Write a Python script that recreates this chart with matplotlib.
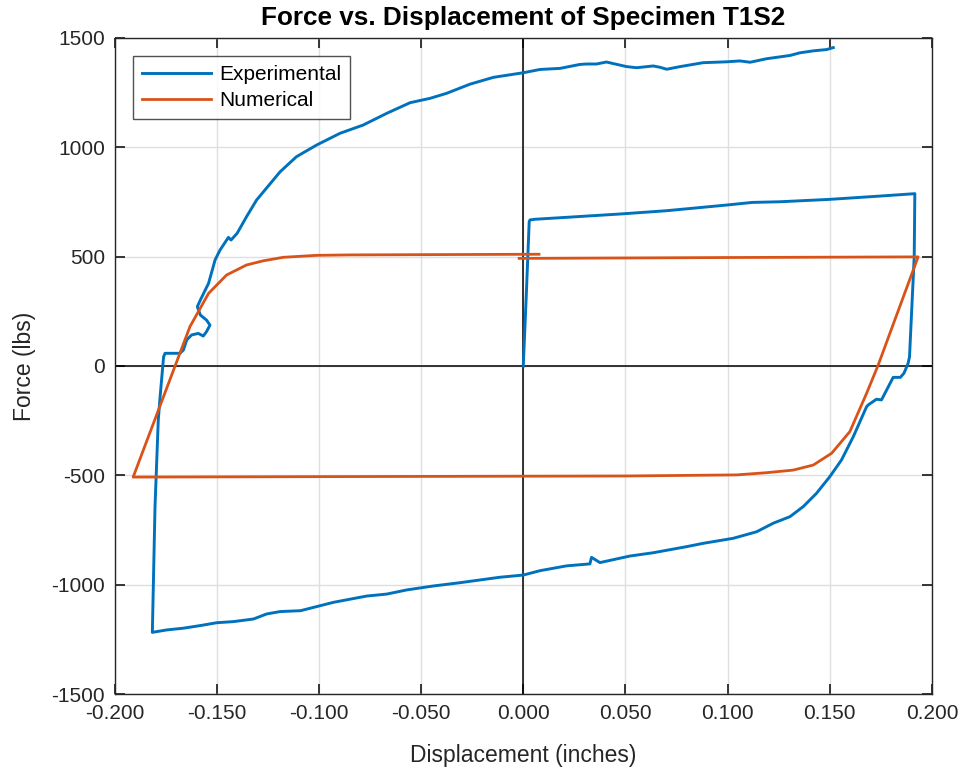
import numpy as np
import matplotlib
matplotlib.use('Agg')
import matplotlib.pyplot as plt
from matplotlib.ticker import FormatStrFormatter

plt.rcParams['font.family'] = ['Liberation Sans', 'DejaVu Sans']
plt.rcParams['axes.unicode_minus'] = False

# experimental hysteresis loop, traced in loading order
exp_disp = [0.000, 0.0015, 0.0029, 0.0033, 0.0057, 0.018, 0.0473, 0.070, 0.0995, 0.112,
            0.1255, 0.150, 0.1745, 0.1916, 0.1913, 0.190, 0.189, 0.1883, 0.1863, 0.1845,
            0.181, 0.1753, 0.1728, 0.1688, 0.168, 0.1615, 0.1557, 0.150, 0.1435, 0.137,
            0.1305, 0.1223, 0.1142, 0.1027, 0.088, 0.080, 0.0636, 0.0522, 0.0375, 0.0334,
            0.0326, 0.0212, 0.0082, 0.000, -0.0114, -0.031, -0.044, -0.057, -0.0668, -0.0766,
            -0.093, -0.101, -0.109, -0.119, -0.1256, -0.132, -0.1419, -0.150, -0.158, -0.1663,
            -0.1745, -0.1815, -0.1802, -0.1786, -0.1777, -0.176, -0.1753, -0.168, -0.1663, -0.1647,
            -0.1623, -0.159, -0.1566, -0.155, -0.1533, -0.155, -0.158, -0.1595, -0.158, -0.154,
            -0.1508, -0.1484, -0.1443, -0.143, -0.140, -0.1354, -0.1305, -0.119, -0.111, -0.1012,
            -0.0897, -0.0783, -0.0669, -0.0554, -0.0456, -0.0375, -0.026, -0.0146, 0.000, 0.0082,
            0.018, 0.0277, 0.031, 0.0358, 0.0407, 0.0506, 0.0554, 0.0636, 0.0669, 0.0702,
            0.0767, 0.088, 0.0995, 0.106, 0.111, 0.119, 0.1305, 0.1353, 0.1418, 0.1484, 0.1517]
exp_force = [0, 330, 660, 668, 671, 678, 695, 710, 736, 748,
             751, 762, 777, 788, 500, 242, 42, 12, -33, -52,
             -52, -155, -152, -178, -186, -323, -430, -506, -582, -643,
             -689, -719, -758, -788, -811, -826, -854, -869, -899, -875,
             -905, -914, -936, -956, -966, -991, -1006, -1024, -1043, -1052,
             -1081, -1100, -1119, -1123, -1134, -1157, -1169, -1174, -1187, -1199,
             -1207, -1218, -643, -247, -140, 42, 58, 58, 73, 119,
             142, 149, 137, 157, 187, 210, 233, 271, 302, 378,
             485, 530, 588, 576, 607, 683, 759, 888, 957, 1010,
             1064, 1102, 1155, 1204, 1224, 1247, 1289, 1320, 1341, 1356,
             1361, 1379, 1381, 1381, 1390, 1369, 1364, 1372, 1366, 1357,
             1369, 1387, 1391, 1395, 1389, 1405, 1420, 1432, 1441, 1447, 1456]

# numerical model response
num_disp = [-0.002, 0.050, 0.100, 0.1932, 0.1737, 0.168, 0.1598, 0.1509, 0.1419, 0.1321,
            0.119, 0.1044, 0.050, 0.000, -0.100, -0.1909, -0.1705, -0.1631, -0.154, -0.1452,
            -0.1354, -0.1272, -0.1174, -0.1012, -0.085, 0.0077]
num_force = [492, 494, 496, 499, 5, -125, -300, -399, -453, -476,
             -488, -498, -503, -504, -506, -508, -3, 180, 332, 416,
             462, 481, 497, 506, 508, 511]

x_ticks = [-0.2, -0.15, -0.1, -0.05, 0.0, 0.05, 0.1, 0.15, 0.2]
y_ticks = [-1500, -1000, -500, 0, 500, 1000, 1500]

fig = plt.figure(figsize=(9.65, 7.75), dpi=100)
ax = fig.add_axes([0.1187, 0.1045, 0.8471, 0.8465])

ax.plot(exp_disp, exp_force, color='#0072BD', lw=2.1, label='Experimental', zorder=3)
ax.plot(num_disp, num_force, color='#D95319', lw=2.0, label='Numerical', zorder=4)

ax.axhline(0, color='black', lw=1.1, zorder=2)
ax.axvline(0, color='black', lw=1.1, zorder=2)

ax.set_xlim(-0.2, 0.2)
ax.set_ylim(-1500, 1500)
ax.set_xticks(x_ticks)
ax.set_yticks(y_ticks)
ax.xaxis.set_major_formatter(FormatStrFormatter('%.3f'))

ax.grid(True, color='#DFDFDF', lw=1.0)
ax.set_axisbelow(True)
for s in ax.spines.values():
    s.set_color('#262626')
    s.set_linewidth(1.0)
ax.tick_params(direction='in', length=7, width=1.3, top=True, right=True,
               labelsize=15, colors='#262626', pad=7)

ax.set_xlabel('Displacement (inches)', fontsize=16.5, color='#262626', labelpad=15)
ax.set_ylabel('Force (lbs)', fontsize=16.5, color='#262626', labelpad=11)
ax.set_title('Force vs. Displacement of Specimen T1S2', fontsize=18.8, fontweight='bold',
             pad=9)

leg = ax.legend(loc='upper left', bbox_to_anchor=(0.022, 0.973), fontsize=15,
                frameon=True, fancybox=False, handlelength=3.3, borderpad=0.45,
                labelspacing=0.33, handletextpad=0.4, borderaxespad=0)
leg.get_frame().set_edgecolor('#262626')
leg.get_frame().set_linewidth(1.0)

fig.savefig('out.png', dpi=100)
